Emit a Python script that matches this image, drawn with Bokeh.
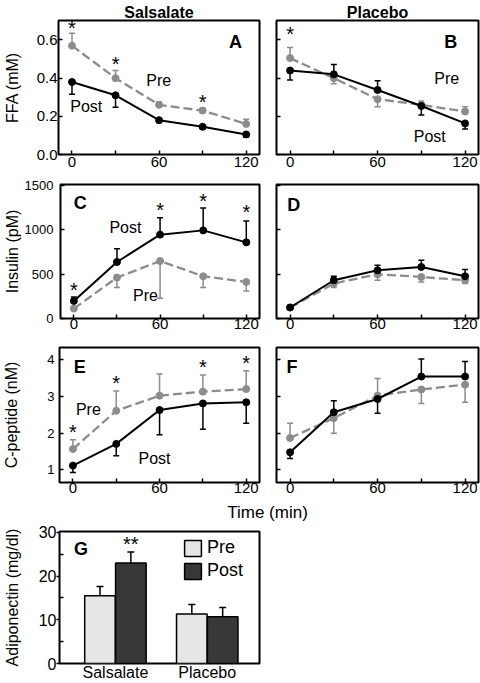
from bokeh.plotting import figure
from bokeh.layouts import column, row
from bokeh.models import (Range1d, FixedTicker, Legend, LegendItem,
                          NumeralTickFormatter, CustomJSTickFormatter)
from bokeh.core.properties import value
from bokeh.embed import file_html
from bokeh.resources import INLINE

FONT = "Liberation Sans"
PRE_C = "#8c8c8c"
POST_C = "#000000"

# ---------------- data ----------------
time_min = [0, 30, 60, 90, 120]

# FFA (mM)
ffa_sal_pre = [0.57, 0.40, 0.26, 0.23, 0.16]
ffa_sal_pre_err = [0.065, 0.04, 0.015, 0.012, 0.025]
ffa_sal_pre_dir = [1, 1, 1, 1, 1]
ffa_sal_post = [0.38, 0.31, 0.18, 0.145, 0.105]
ffa_sal_post_err = [0.065, 0.063, 0.013, 0.01, 0.015]
ffa_sal_post_dir = [-1, -1, -1, -1, -1]
ffa_pla_pre = [0.505, 0.40, 0.29, 0.26, 0.225]
ffa_pla_pre_err = [0.055, 0.03, 0.04, 0.02, 0.025]
ffa_pla_pre_dir = [1, -1, -1, 1, 1]
ffa_pla_post = [0.44, 0.42, 0.338, 0.254, 0.163]
ffa_pla_post_err = [0.05, 0.052, 0.048, 0.047, 0.029]
ffa_pla_post_dir = [-1, 1, 1, -1, -1]

# Insulin (pM)
ins_sal_pre = [112, 461, 648, 476, 412]
ins_sal_pre_err = [20, 112, 420, 127, 102]
ins_sal_pre_dir = [-1, -1, -1, -1, -1]
ins_sal_post = [198, 637, 945, 993, 858]
ins_sal_post_err = [45, 150, 191, 251, 240]
ins_sal_post_dir = [1, 1, 1, 1, 1]
ins_pla_pre = [124, 394, 498, 468, 431]
ins_pla_pre_err = [10, 45, 67, 56, 37]
ins_pla_pre_dir = [-1, -1, -1, -1, -1]
ins_pla_post = [124, 431, 543, 581, 476]
ins_pla_post_err = [10, 45, 57, 75, 75]
ins_pla_post_dir = [1, 1, 1, 1, 1]

# C-peptide (nM)
cp_sal_pre = [1.57, 2.61, 3.02, 3.13, 3.20]
cp_sal_pre_err = [0.25, 0.54, 0.59, 0.45, 0.50]
cp_sal_pre_dir = [1, 1, 1, 1, 1]
cp_sal_post = [1.12, 1.71, 2.63, 2.81, 2.84]
cp_sal_post_err = [0.19, 0.32, 0.67, 0.70, 0.57]
cp_sal_post_dir = [-1, -1, -1, -1, -1]
cp_pla_pre = [1.87, 2.41, 3.02, 3.19, 3.32]
cp_pla_pre_err = [0.40, 0.41, 0.47, 0.38, 0.48]
cp_pla_pre_dir = [1, -1, 1, -1, -1]
cp_pla_post = [1.48, 2.57, 2.93, 3.54, 3.54]
cp_pla_post_err = [0.17, 0.31, 0.39, 0.48, 0.41]
cp_pla_post_dir = [-1, 1, -1, 1, 1]

# Adiponectin (mg/dl)
adipo_groups = ["Salsalate", "Placebo"]
adipo_pre = [15.5, 11.3]
adipo_pre_err = [2.1, 2.2]
adipo_post = [23.0, 10.7]
adipo_post_err = [2.5, 2.1]

# significance markers (time, height of the asterisk)
ffa_sal_star_t = [0, 30, 90]
ffa_sal_star_y = [0.674, 0.482, 0.286]
ffa_pla_star_t = [0]
ffa_pla_star_y = [0.644]
ins_sal_star_t = [0, 60, 90, 120]
ins_sal_star_y = [349, 1244, 1350, 1218]
cp_sal_star_t = [0, 30, 90, 120]
cp_sal_star_y = [2.09, 3.43, 3.85, 3.95]

X_RANGE = (-9.3, 129.2)


# ---------------- helpers ----------------
def make_fig(w, h, bl, br, bt, bb, yr, title=None, xr=X_RANGE):
    p = figure(width=w, height=h, x_range=Range1d(*xr), y_range=Range1d(*yr),
               title=title, output_backend="svg", toolbar_location=None,
               min_border_left=bl, min_border_right=br,
               min_border_top=bt, min_border_bottom=bb,
               background_fill_color="white", border_fill_color="white")
    p.xgrid.visible = False
    p.ygrid.visible = False
    p.outline_line_color = "black"
    p.outline_line_width = 2
    p.outline_line_alpha = 1
    if title:
        p.title.align = "center"
        p.title.text_font = FONT
        p.title.text_font_size = "16px"
        p.title.text_font_style = "bold"
        p.title.text_color = "black"
        p.title.standoff = 0
    return p


def style_x(p, standoff):
    ax = p.xaxis[0]
    ax.ticker = FixedTicker(ticks=[0, 60, 120], minor_ticks=[30, 90])
    ax.major_tick_in = 4
    ax.major_tick_out = 0
    ax.minor_tick_in = 4
    ax.minor_tick_out = 0
    ax.major_tick_line_width = 1.5
    ax.minor_tick_line_width = 1.5
    ax.major_tick_line_color = "black"
    ax.minor_tick_line_color = "black"
    ax.axis_line_color = None
    ax.major_label_standoff = standoff
    ax.major_label_text_font = FONT
    ax.major_label_text_font_size = "15px"
    ax.major_label_text_color = "black"


def style_y(p, ticks, label=None, show=True, fs="15px", standoff=1,
            label_standoff=10, label_fs="16px", fmt=None):
    ax = p.yaxis[0]
    ax.ticker = FixedTicker(ticks=ticks, minor_ticks=[])
    ax.major_tick_in = 4
    ax.major_tick_out = 0
    ax.minor_tick_in = 0
    ax.minor_tick_out = 0
    ax.major_tick_line_width = 1.5
    ax.major_tick_line_color = "black"
    ax.axis_line_color = None
    ax.major_label_text_font = FONT
    ax.major_label_text_font_size = fs
    ax.major_label_text_color = "black"
    if show:
        ax.major_label_standoff = standoff
        if fmt is not None:
            ax.formatter = fmt
    else:
        ax.major_label_standoff = 0
        ax.formatter = CustomJSTickFormatter(code="return ''")
    if label:
        ax.axis_label = label
        ax.axis_label_text_font = FONT
        ax.axis_label_text_font_size = label_fs
        ax.axis_label_text_font_style = "normal"
        ax.axis_label_text_color = "black"
        ax.axis_label_standoff = label_standoff


def series(p, y, err, d, color, dash, lw):
    x = time_min
    ends = [yy + dd * ee for yy, ee, dd in zip(y, err, d)]
    p.segment(x0=x, y0=y, x1=x, y1=ends, line_color=color, line_width=1.5)
    p.scatter(x=x, y=ends, marker="dash", size=6, line_color=color, line_width=1.5)
    p.line(x=x, y=y, line_color=color, line_width=lw, line_dash=dash)
    p.scatter(x=x, y=y, size=7, fill_color=color, line_color=color)


def txt(p, x, y, s, size, bold=False, align="center"):
    p.text(x=[x], y=[y], text=[s], text_font=value(FONT),
           text_font_size=f"{size}px",
           text_font_style="bold" if bold else "normal",
           text_align=align, text_baseline="middle",
           y_offset=0, text_color="black")


def stars(p, xs, ys, s="*", size=20):
    p.text(x=xs, y=ys, text=[s] * len(xs), text_font=value(FONT),
           text_font_size=f"{size}px", text_align="center",
           text_baseline="middle", y_offset=2, text_color="black")


DASH = "9 4"

# ---------------- row 1: FFA ----------------
pA = make_fig(267, 176, 56, 8, 20, 22, (0, 0.702), title="Salsalate")
style_x(pA, 2)
style_y(pA, [0, 0.2, 0.4, 0.6], label="FFA (mM)", standoff=1, label_standoff=13,
        fmt=NumeralTickFormatter(format="0.0"))
series(pA, ffa_sal_pre, ffa_sal_pre_err, ffa_sal_pre_dir, PRE_C, DASH, 2.3)
series(pA, ffa_sal_post, ffa_sal_post_err, ffa_sal_post_dir, POST_C, "solid", 2)
stars(pA, ffa_sal_star_t, ffa_sal_star_y)
txt(pA, 112.6, 0.587, "A", 18, bold=True)
txt(pA, 59.8, 0.39, "Pre", 16)
txt(pA, 9.8, 0.253, "Post", 16)

pB = make_fig(213, 176, 9, 2, 20, 22, (0, 0.702), title="Placebo")
style_x(pB, 2)
style_y(pB, [0, 0.2, 0.4, 0.6], show=False)
series(pB, ffa_pla_pre, ffa_pla_pre_err, ffa_pla_pre_dir, PRE_C, DASH, 2.3)
series(pB, ffa_pla_post, ffa_pla_post_err, ffa_pla_post_dir, POST_C, "solid", 2)
stars(pB, ffa_pla_star_t, ffa_pla_star_y)
txt(pB, 110.1, 0.59, "B", 18, bold=True)
txt(pB, 107.4, 0.40, "Pre", 16)
txt(pB, 95.8, 0.092, "Post", 16)

# ---------------- row 2: Insulin ----------------
pC = make_fig(267, 162, 56, 8, 8, 20, (0, 1510))
style_x(pC, 0)
style_y(pC, [0, 500, 1000, 1500], label="Insulin (pM)", fs="13px", standoff=7,
        label_standoff=1)
series(pC, ins_sal_pre, ins_sal_pre_err, ins_sal_pre_dir, PRE_C, DASH, 2.3)
series(pC, ins_sal_post, ins_sal_post_err, ins_sal_post_dir, POST_C, "solid", 2)
stars(pC, ins_sal_star_t, ins_sal_star_y)
txt(pC, 4.4, 1303, "C", 18, bold=True)
txt(pC, 35.9, 1021, "Post", 16)
txt(pC, 49.9, 262, "Pre", 16)

pD = make_fig(213, 162, 9, 2, 8, 20, (0, 1510))
style_x(pD, 0)
style_y(pD, [0, 500, 1000, 1500], show=False)
series(pD, ins_pla_pre, ins_pla_pre_err, ins_pla_pre_dir, PRE_C, DASH, 2.3)
series(pD, ins_pla_post, ins_pla_post_err, ins_pla_post_dir, POST_C, "solid", 2)
txt(pD, 2.6, 1275, "D", 18, bold=True)

# ---------------- row 3: C-peptide ----------------
pE = make_fig(267, 162, 56, 8, 9, 18, (0.66, 4.33))
style_x(pE, 0)
style_y(pE, [1, 2, 3, 4], label="C-peptide (nM)", fs="13px", standoff=5,
        label_standoff=24)
series(pE, cp_sal_pre, cp_sal_pre_err, cp_sal_pre_dir, PRE_C, DASH, 2.3)
series(pE, cp_sal_post, cp_sal_post_err, cp_sal_post_dir, POST_C, "solid", 2)
stars(pE, cp_sal_star_t, cp_sal_star_y)
txt(pE, 4.8, 3.80, "E", 18, bold=True)
txt(pE, 10.7, 2.65, "Pre", 16)
txt(pE, 56.5, 1.32, "Post", 16)

pF = make_fig(213, 162, 9, 2, 9, 18, (0.66, 4.33))
style_x(pF, 0)
style_y(pF, [1, 2, 3, 4], show=False)
series(pF, cp_pla_pre, cp_pla_pre_err, cp_pla_pre_dir, PRE_C, DASH, 2.3)
series(pF, cp_pla_post, cp_pla_post_err, cp_pla_post_dir, POST_C, "solid", 2)
txt(pF, 1.4, 3.79, "F", 18, bold=True)

# ---------------- shared x label strip ----------------
pT = figure(width=480, height=22, x_range=Range1d(0, 1), y_range=Range1d(0, 1),
            x_axis_location=None, y_axis_location=None, output_backend="svg",
            toolbar_location=None, min_border_left=56, min_border_right=2,
            min_border_top=0, min_border_bottom=0)
pT.xgrid.visible = False
pT.ygrid.visible = False
pT.outline_line_color = None
pT.text(x=[0.5], y=[0.5], text=["Time (min)"], text_font=value(FONT),
        text_font_size="17px", text_align="center", text_baseline="middle",
        y_offset=1, text_color="black")

# ---------------- row 4: Adiponectin bars ----------------
pG = make_fig(267, 161, 56, 8, 9, 19, (0, 30.2), xr=(0.391, 2.569))
gx = [i + 1 for i in range(len(adipo_groups))]
off = 0.168
bw = 0.333
x_pre = [g - off for g in gx]
x_post = [g + off for g in gx]
r_pre = pG.vbar(x=x_pre, top=adipo_pre, width=bw, fill_color="#e6e6e6",
                line_color="black", line_width=1.5)
r_post = pG.vbar(x=x_post, top=adipo_post, width=bw, fill_color="#383838",
                 line_color="black", line_width=1.5)
for xs, tops, errs in ((x_pre, adipo_pre, adipo_pre_err), (x_post, adipo_post, adipo_post_err)):
    ends = [t + e for t, e in zip(tops, errs)]
    pG.segment(x0=xs, y0=tops, x1=xs, y1=ends, line_color="black", line_width=1.5)
    pG.scatter(x=xs, y=ends, marker="dash", size=7, line_color="black", line_width=1.5)
stars(pG, [x_post[0]], [27.7], s="**")
txt(pG, 0.624, 26.2, "G", 18, bold=True)

gax = pG.xaxis[0]
gax.ticker = FixedTicker(ticks=gx, minor_ticks=[])
gax.major_label_overrides = {g: name for g, name in zip(gx, adipo_groups)}
gax.major_tick_in = 0
gax.major_tick_out = 0
gax.axis_line_color = None
gax.major_label_standoff = 0
gax.major_label_text_font = FONT
gax.major_label_text_font_size = "16px"
gax.major_label_text_color = "black"

yax = pG.yaxis[0]
yax.ticker = FixedTicker(ticks=[0, 10, 20, 30], minor_ticks=[5, 15, 25])
yax.major_tick_in = 0
yax.major_tick_out = 3
yax.minor_tick_in = 4
yax.minor_tick_out = 0
yax.major_tick_line_width = 1.5
yax.minor_tick_line_width = 1.5
yax.major_tick_line_color = "black"
yax.minor_tick_line_color = "black"
yax.axis_line_color = None
yax.major_label_standoff = 0
yax.major_label_text_font = FONT
yax.major_label_text_font_size = "16px"
yax.major_label_text_color = "black"
yax.axis_label = "Adiponectin (mg/dl)"
yax.axis_label_text_font = FONT
yax.axis_label_text_font_size = "16px"
yax.axis_label_text_font_style = "normal"
yax.axis_label_text_color = "black"
yax.axis_label_standoff = 15

legend = Legend(items=[LegendItem(label="Pre", renderers=[r_pre]),
                       LegendItem(label="Post", renderers=[r_post])],
                location=(123, 82), orientation="vertical",
                glyph_width=21, glyph_height=20, label_standoff=4,
                spacing=2, padding=0, margin=0,
                border_line_color=None, background_fill_alpha=0,
                label_text_font=FONT, label_text_font_size="18px",
                label_text_color="black")
pG.add_layout(legend)

layout = column(row(pA, pB), row(pC, pD), row(pE, pF), pT, row(pG))

open("out.html", "w").write(file_html(layout, INLINE))
